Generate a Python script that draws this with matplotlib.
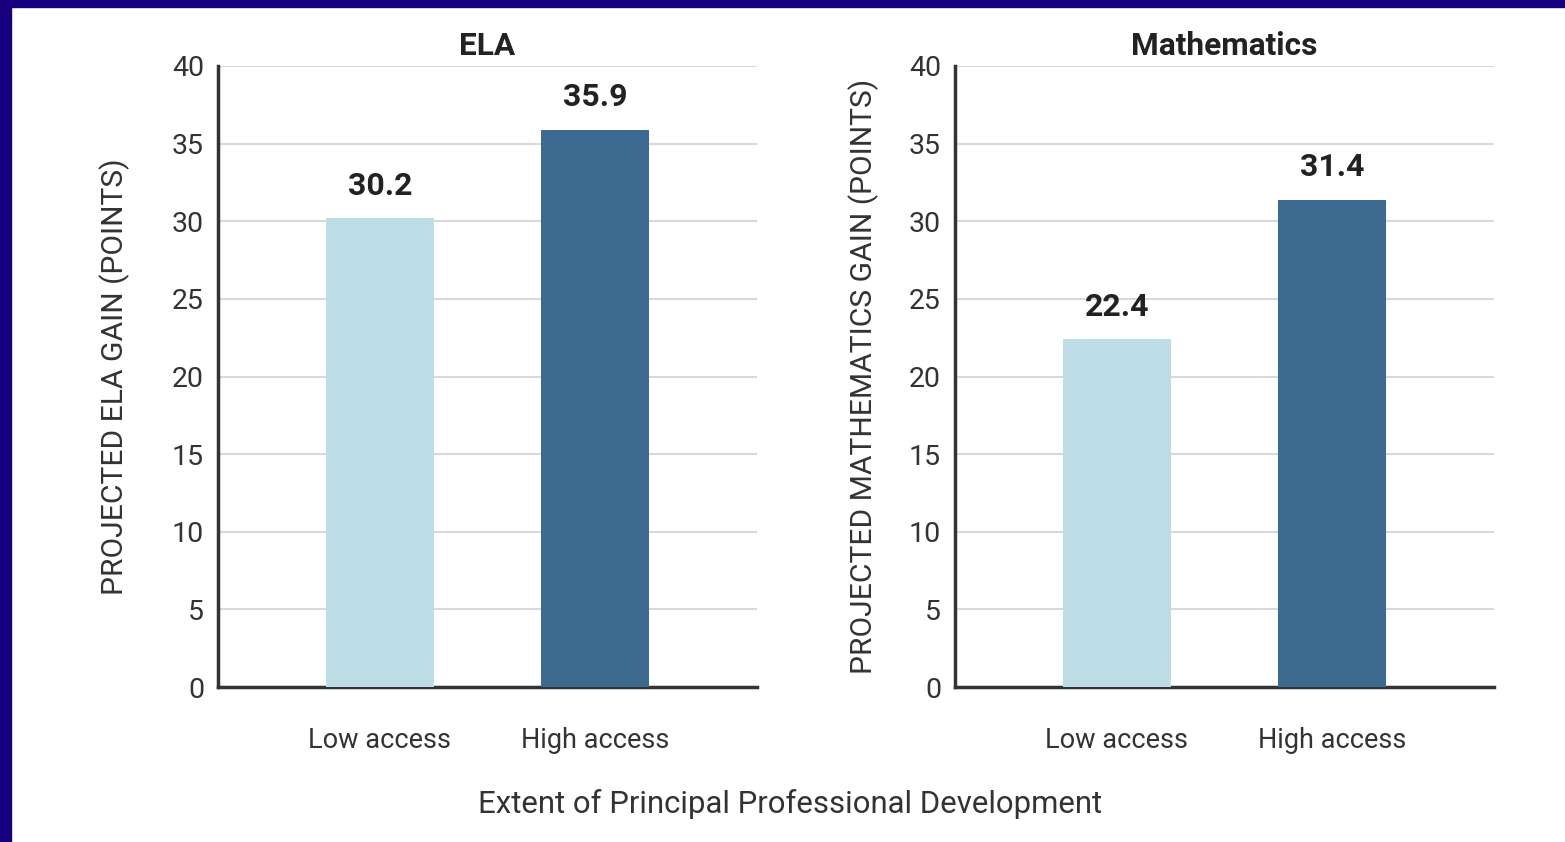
import matplotlib.pyplot as plt
from matplotlib.patches import Rectangle

categories = ["Low access", "High access"]
ela_values = [30.2, 35.9]
math_values = [22.4, 31.4]
titles = ["ELA", "Mathematics"]
ylabels = ["PROJECTED ELA GAIN (POINTS)", "PROJECTED MATHEMATICS GAIN (POINTS)"]
colors = ["#bddde6", "#3d6a90"]

plt.rcParams['font.family'] = ['Roboto', 'DejaVu Sans']

fig = plt.figure(figsize=(15.65, 8.42), dpi=100)
W, H = 1565, 842

# dark blue frame on top and left
fig.patches.append(Rectangle((0, 1 - 7 / H), 1, 7 / H, transform=fig.transFigure,
                             color="#17007f", zorder=10))
fig.patches.append(Rectangle((0, 0), 11 / W, 1, transform=fig.transFigure,
                             color="#17007f", zorder=10))

lefts = [218, 955]
label_x = [-0.191, -0.170]
for i, vals in enumerate([ela_values, math_values]):
    ax = fig.add_axes([lefts[i] / W, 1 - 687 / H, 539 / W, 621 / H])
    x = range(len(categories))
    ax.bar(x, vals, width=0.505, color=colors, zorder=3)
    for xi, v in zip(x, vals):
        ax.text(xi, v + 1.5, f"{v:.1f}", ha="center", va="baseline",
                fontsize=23, fontweight="bold", color="#222222")
    ax.set_xlim(-0.753, 1.753)
    ax.set_ylim(0, 40)
    ax.set_yticks(range(0, 41, 5))
    ax.set_xticks(list(x))
    ax.set_xticklabels(categories, fontsize=19.5, color="#333333")
    ax.tick_params(axis="x", length=0, pad=29)
    ax.tick_params(axis="y", length=0, pad=10, labelsize=20.5, labelcolor="#333333")
    ax.grid(axis="y", color="#d9d9d9", linewidth=1.5, zorder=0)
    for s in ["top", "right"]:
        ax.spines[s].set_visible(False)
    for s in ["left", "bottom"]:
        ax.spines[s].set_color("#333333")
        ax.spines[s].set_linewidth(2.5)
    ax.set_title(titles[i], fontsize=22.8, fontweight="bold", color="#222222", pad=8)
    ax.set_ylabel(ylabels[i], fontsize=21.6, color="#333333")
    ax.yaxis.set_label_coords(label_x[i], 0.5)
    ax.yaxis.label.set_verticalalignment("center")

fig.text(790 / W, 1 - 804 / H, "Extent of Principal Professional Development",
         ha="center", va="center", fontsize=22.4, color="#333333")

fig.savefig("out.png", dpi=100, facecolor="white")
